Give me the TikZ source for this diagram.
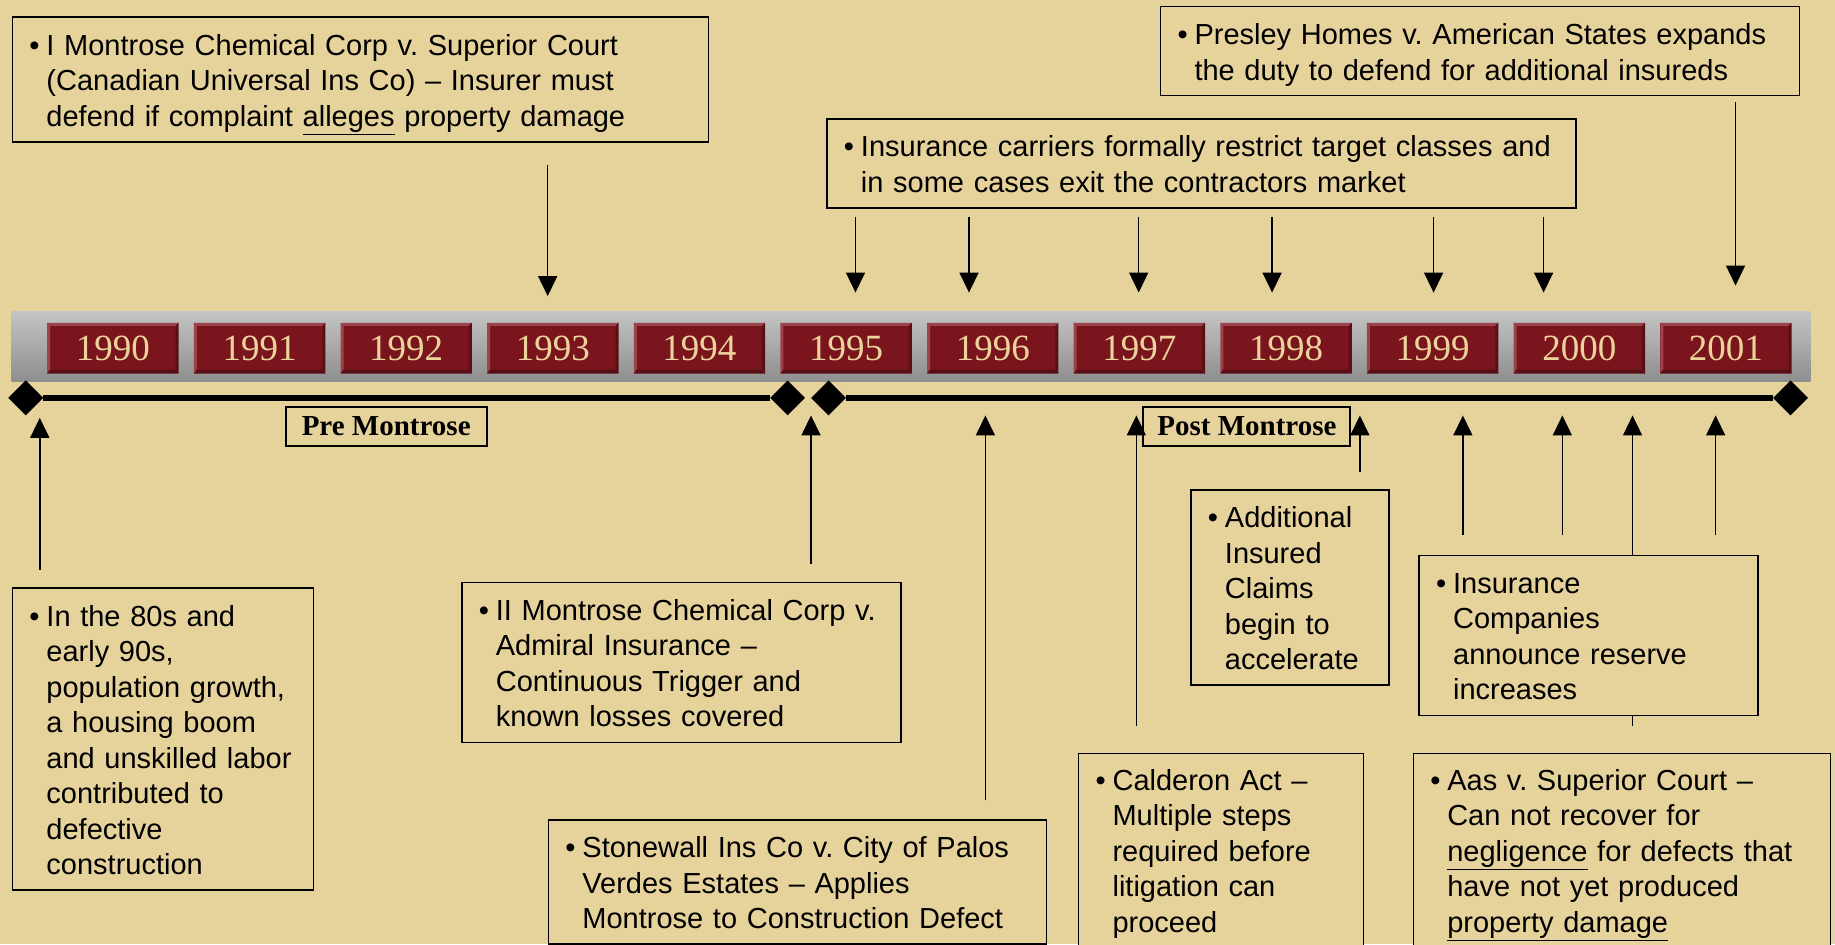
\documentclass[tikz,border=0pt]{standalone}
\usepackage{fontspec}
\setmainfont{Liberation Sans}
\newfontfamily\yearfont{Liberation Serif}
\usetikzlibrary{arrows.meta,shapes.geometric}

\definecolor{parchment}{HTML}{E6D29B}
\definecolor{yearred}{HTML}{7A151E}
\definecolor{yearlight}{HTML}{9C444C}
\definecolor{yeardark}{HTML}{5A0E16}
\definecolor{yeartext}{HTML}{EBD49C}
\definecolor{barhi}{HTML}{C4C4C4}
\definecolor{barlo}{HTML}{8E8E8E}

\newcommand\notesize{\fontsize{29}{35.5}\selectfont\frenchspacing}
\newcommand\bulletlines[1]{\makebox[17pt][l]{\textbullet}\begin{tabular}[t]{@{}l@{}}\rule{0pt}{33pt}#1\end{tabular}}

\begin{document}
\begin{tikzpicture}
    [x=1.1703pt, y=-1.1703pt
    ,>={Triangle[width=19pt,length=20pt]}
    ,yearbox/.style={fill=yearred, text=yeartext, font=\yearfont\fontsize{37}{37}\selectfont, minimum width=131pt, minimum height=50.3pt, inner sep=0pt}
    ,endpoint/.style={diamond, fill=black, minimum size=35pt, inner sep=0pt}
    ,era/.style={draw, line width=2pt, fill=parchment, font=\yearfont\bfseries\fontsize{29}{30}\selectfont, minimum height=38.6pt, inner sep=0pt}
    ,note/.style={draw, line width=1.5pt, fill=parchment, anchor=north west, align=left, font=\notesize, inner xsep=17pt, inner ysep=0pt}
    ,event/.style={->, line width=1.6pt}
    ]

    \useasboundingbox (0,0) rectangle (1568,807);
    \clip (0,0) rectangle (1568,807);
    \fill[parchment] (0,0) rectangle (1568,807);

    \shade[top color=barhi, bottom color=barlo] (10,266) rectangle (1547,326);

    \foreach \yr [count=\i from 0] in {1990,...,2001} {
        \node[yearbox] (y\yr) at (96.5+125.3*\i, 297.5) {\yr};
        \fill[yearlight] (y\yr.north west) -- (y\yr.north east) -- ([shift={(-3pt,-3pt)}]y\yr.north east) -- ([shift={(3pt,-3pt)}]y\yr.north west) -- cycle;
        \fill[yearlight] (y\yr.north west) -- ([shift={(3pt,-3pt)}]y\yr.north west) -- ([shift={(3pt,4pt)}]y\yr.south west) -- (y\yr.south west) -- cycle;
        \fill[yeardark] (y\yr.south west) -- (y\yr.south east) -- ([shift={(-3pt,4pt)}]y\yr.south east) -- ([shift={(3pt,4pt)}]y\yr.south west) -- cycle;
        \fill[yeardark] (y\yr.north east) -- ([shift={(-3pt,-3pt)}]y\yr.north east) -- ([shift={(-3pt,4pt)}]y\yr.south east) -- (y\yr.south east) -- cycle;
    }

    \node[endpoint] (e1) at (22,340) {};
    \node[endpoint] (e2) at (673,340) {};
    \node[endpoint] (e3) at (708,340) {};
    \node[endpoint] (e4) at (1530,340) {};
    \draw[line width=6.5pt] (e1) -- (e2);
    \draw[line width=6.5pt] (e3) -- (e4);

    \node[era, minimum width=201pt] (pre) at (330,364.5) {Pre Montrose};
    \node[era, minimum width=207pt] (post) at (1065.5,364.5) {Post Montrose};

    \foreach \n/\x/\ya/\yb in {d1/468/141/253, d2/731/185/250, d3/828/185/250, d4/973/185/250, d5/1087/185/250, d6/1225/185/250, d7/1319/185/250, d8/1483/87/244,
                              u1/34/487/357, u2/693/482/355, u3/842/684/355, u4/971/620/355, u5/1162/403/355, u6/1250/457/355, u7/1335/457/355, u8/1395/620/355, u9/1466/457/355} {
        \coordinate (\n-tail) at (\x,\ya);
        \coordinate (\n-tip) at (\x,\yb);
        \draw[event] (\n-tail) -- (\n-tip);
    }

    \node[note, text width=662pt, minimum height=125pt] (montroseI) at (10,14)
        {\bulletlines{I Montrose Chemical Corp v. Superior Court\\(Canadian Universal Ins Co) – Insurer must\\defend if complaint \underline{alleges} property damage}};
    \node[note, text width=715pt, minimum height=89pt] (carriers) at (706,101)
        {\bulletlines{Insurance carriers formally restrict target classes and\\in some cases exit the contractors market}};
    \node[note, text width=605pt, minimum height=89pt] (presley) at (991,5)
        {\bulletlines{Presley Homes v. American States expands\\the duty to defend for additional insureds}};

    \node[note, text width=267pt, minimum height=302pt] (eighties) at (10,502)
        {\bulletlines{In the 80s and\\early 90s,\\population growth,\\a housing boom\\and unskilled labor\\contributed to\\defective\\construction}};
    \node[note, text width=405pt, minimum height=160pt] (montroseII) at (394,497)
        {\bulletlines{II Montrose Chemical Corp v.\\Admiral Insurance –\\Continuous Trigger and\\known losses covered}};
    \node[note, text width=464pt, minimum height=124pt] (stonewall) at (468,700)
        {\bulletlines{Stonewall Ins Co v. City of Palos\\Verdes Estates – Applies\\Montrose to Construction Defect}};
    \node[note, text width=251pt, minimum height=194pt] (calderon) at (921,643)
        {\bulletlines{Calderon Act –\\Multiple steps\\required before\\litigation can\\proceed}};
    \node[note, text width=164pt, minimum height=195pt] (addins) at (1017,418)
        {\bulletlines{Additional\\Insured\\Claims\\begin to\\accelerate}};
    \node[note, text width=305pt, minimum height=160pt] (reserve) at (1212,474)
        {\bulletlines{Insurance\\Companies\\announce reserve\\increases}};
    \node[note, text width=383pt, minimum height=194pt] (aas) at (1207,643)
        {\bulletlines{Aas v. Superior Court –\\Can not recover for\\\underline{negligence} for defects that\\have not yet produced\\\underline{property damage}}};

\end{tikzpicture}
\end{document}
